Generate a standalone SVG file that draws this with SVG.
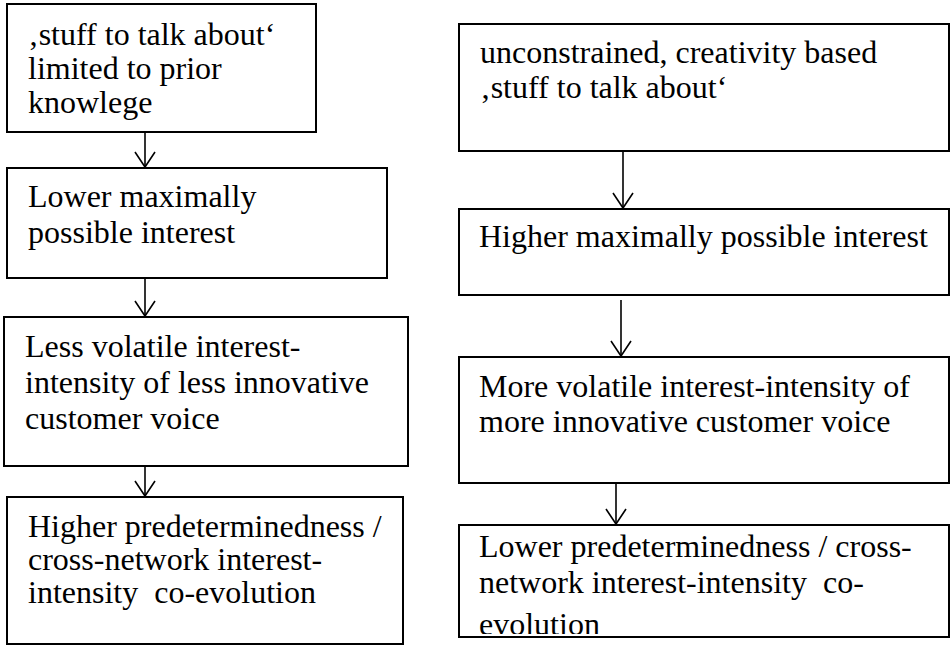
<svg xmlns="http://www.w3.org/2000/svg" width="950" height="647" viewBox="0 0 950 647">
<style>
.box{fill:#fff;stroke:#000;stroke-width:2}
.t{font-family:"Liberation Serif","Times New Roman",serif;font-size:32px;fill:#000}
.c{stroke:#000;stroke-width:1.6;fill:none}
</style>
<defs>
<marker id="ah" viewBox="0 0 24 18" refX="12" refY="16" markerWidth="24" markerHeight="18" markerUnits="userSpaceOnUse" orient="0">
<path d="M2,1 L12,16 L22,1" fill="none" stroke="#000" stroke-width="1.6"/>
</marker>
<clipPath id="clipR4"><rect x="459" y="525" width="490" height="109"/></clipPath>
</defs>
<rect width="950" height="647" fill="#fff"/>
<g id="L1"><rect class="box" x="7" y="4" width="309" height="128"/>
<text class="t" x="28" y="45">‚stuff to talk about‘</text>
<text class="t" x="28" y="79">limited to prior</text>
<text class="t" x="28" y="113">knowlege</text></g>
<g id="L2"><rect class="box" x="7" y="168" width="380" height="110"/>
<text class="t" x="28" y="207">Lower maximally</text>
<text class="t" x="28" y="243">possible interest</text></g>
<g id="L3"><rect class="box" x="4" y="317" width="404" height="149"/>
<text class="t" x="25" y="357">Less volatile interest-</text>
<text class="t" x="25" y="393">intensity of less innovative</text>
<text class="t" x="25" y="429">customer voice</text></g>
<g id="L4"><rect class="box" x="7" y="497" width="396" height="147"/>
<text class="t" x="28" y="537">Higher predeterminedness /</text>
<text class="t" x="28" y="570">cross-network interest-</text>
<text class="t" x="28" y="603" xml:space="preserve">intensity  co-evolution</text></g>
<g id="R1"><rect class="box" x="459" y="24" width="490" height="127"/>
<text class="t" x="480" y="63">unconstrained, creativity based</text>
<text class="t" x="480" y="98">‚stuff to talk about‘</text></g>
<g id="R2"><rect class="box" x="459" y="209" width="490" height="86"/>
<text class="t" x="479" y="247">Higher maximally possible interest</text></g>
<g id="R3"><rect class="box" x="459" y="357" width="490" height="126"/>
<text class="t" x="479" y="397">More volatile interest-intensity of</text>
<text class="t" x="479" y="432">more innovative customer voice</text></g>
<g id="R4"><rect class="box" x="459" y="525" width="490" height="112"/>
<g clip-path="url(#clipR4)">
<text class="t" x="479" y="557">Lower predeterminedness / cross-</text>
<text class="t" x="479" y="593" xml:space="preserve">network interest-intensity  co-</text>
<text class="t" x="479" y="635">evolution</text></g></g>
<g id="connectors">
<line class="c" x1="145" y1="132" x2="145" y2="167" marker-end="url(#ah)"/>
<line class="c" x1="145" y1="278" x2="145" y2="316" marker-end="url(#ah)"/>
<line class="c" x1="145" y1="466" x2="145" y2="496" marker-end="url(#ah)"/>
<line class="c" x1="623" y1="151" x2="623" y2="208" marker-end="url(#ah)"/>
<line class="c" x1="621" y1="300" x2="621" y2="356" marker-end="url(#ah)"/>
<line class="c" x1="616" y1="483" x2="616" y2="524" marker-end="url(#ah)"/>
</g>
</svg>
